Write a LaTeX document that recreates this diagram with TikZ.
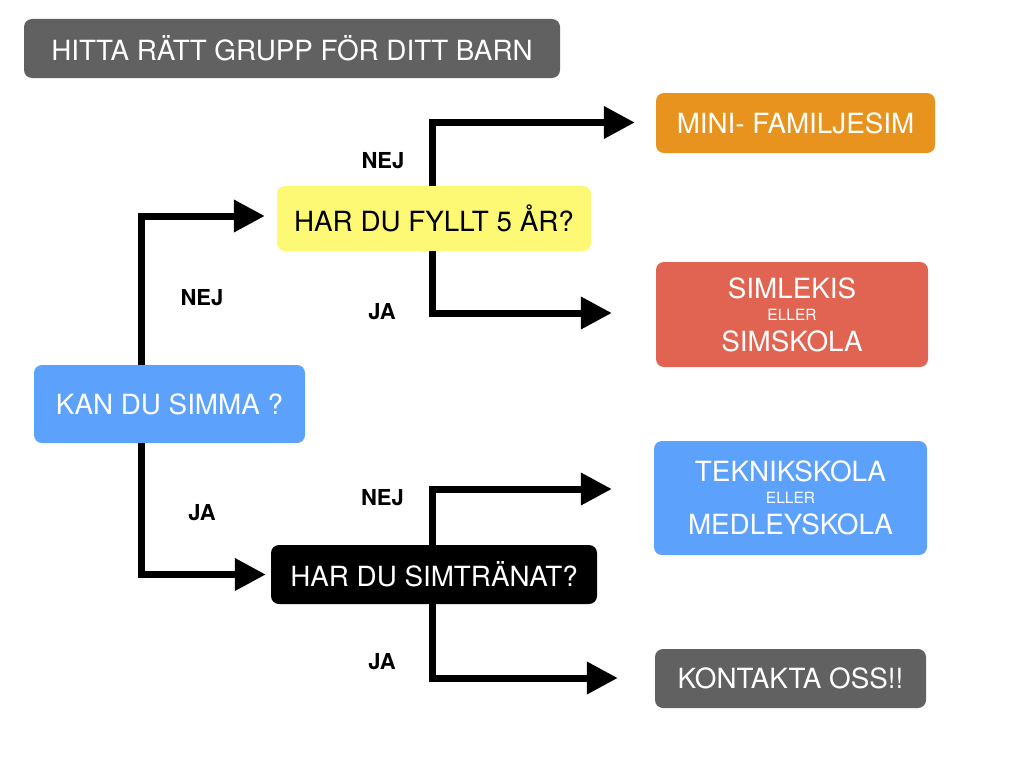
\documentclass[tikz,border=0pt]{standalone}
\usepackage{fontspec}
\setmainfont{TeX Gyre Heros}
\usetikzlibrary{arrows.meta,calc}
\definecolor{tgray}{HTML}{616161}
\definecolor{tyellow}{HTML}{FEF974}
\definecolor{torange}{HTML}{E8931E}
\definecolor{tred}{HTML}{E06451}
\definecolor{tblue}{HTML}{5CA2FD}
\begin{document}
\begin{tikzpicture}[x=1pt,y=-1pt,
  box/.style={rounded corners=8pt, text=white, align=center, inner sep=0pt,
    font=\fontsize{27.8}{31}\selectfont},
  lbl/.style={font=\bfseries\fontsize{22}{24}\selectfont, inner sep=0pt},
  arr/.style={line width=7pt, line join=miter, -{Triangle[length=31pt,width=31pt]}}]
\fill[white] (0,0) rectangle (1024,768);
\useasboundingbox (0,0) rectangle (1024,768);

\node[box, fill=tgray, minimum width=536pt, minimum height=59pt] (title) at (292,48.5) {HITTA RÄTT GRUPP FÖR DITT BARN};
\node[box, fill=tyellow, text=black, minimum width=314pt, minimum height=65pt] (q5) at (434,218.5) {HAR DU FYLLT 5 ÅR?};
\node[box, fill=torange, minimum width=279pt, minimum height=60pt] (mini) at (795.5,123) {MINI- FAMILJESIM};
\node[box, fill=tred, minimum width=272pt, minimum height=105pt] (simlekis) at (792,314.5) {SIMLEKIS\\[-9pt]{\fontsize{15.5}{17}\selectfont ELLER}\\SIMSKOLA};
\node[box, fill=tblue, minimum width=271pt, minimum height=78pt] (kan) at (169.5,404) {KAN DU SIMMA ?};
\node[box, fill=tblue, minimum width=273pt, minimum height=114pt] (teknik) at (790.5,498) {TEKNIKSKOLA\\[-9pt]{\fontsize{15.5}{17}\selectfont ELLER}\\MEDLEYSKOLA};
\node[box, fill=black, minimum width=326pt, minimum height=59pt] (sim) at (434,574.5) {HAR DU SIMTRÄNAT?};
\node[box, fill=tgray, minimum width=271pt, minimum height=59pt] (kontakt) at (790.5,678.5) {KONTAKTA OSS!!};

\coordinate (c1) at (141,216);
\coordinate (c2) at (141,574.5);
\coordinate (c3) at (432,122.5);
\coordinate (c4) at (432,313);
\coordinate (c5) at (432,489);
\coordinate (c6) at (432,678);

\draw[arr, shorten >=12pt] (kan.north -| c1) |- (q5.west |- c1);
\draw[arr, shorten >=5pt] (kan.south -| c2) |- (sim.west |- c2);
\draw[arr, shorten >=21pt] (q5.north -| c3) |- (mini.west |- c3);
\draw[arr, shorten >=44pt] (q5.south -| c4) |- (simlekis.west |- c4);
\draw[arr, shorten >=42pt] (sim.north -| c5) |- (teknik.west |- c5);
\draw[arr, shorten >=37pt] (sim.south -| c6) |- (kontakt.west |- c6);

\node[lbl] (l1) at (383,161) {NEJ};
\node[lbl] (l2) at (202,298) {NEJ};
\node[lbl] (l3) at (382,312) {JA};
\node[lbl] (l4) at (202,512.5) {JA};
\node[lbl] (l5) at (382.5,498) {NEJ};
\node[lbl] (l6) at (382,661.5) {JA};
\end{tikzpicture}
\end{document}
